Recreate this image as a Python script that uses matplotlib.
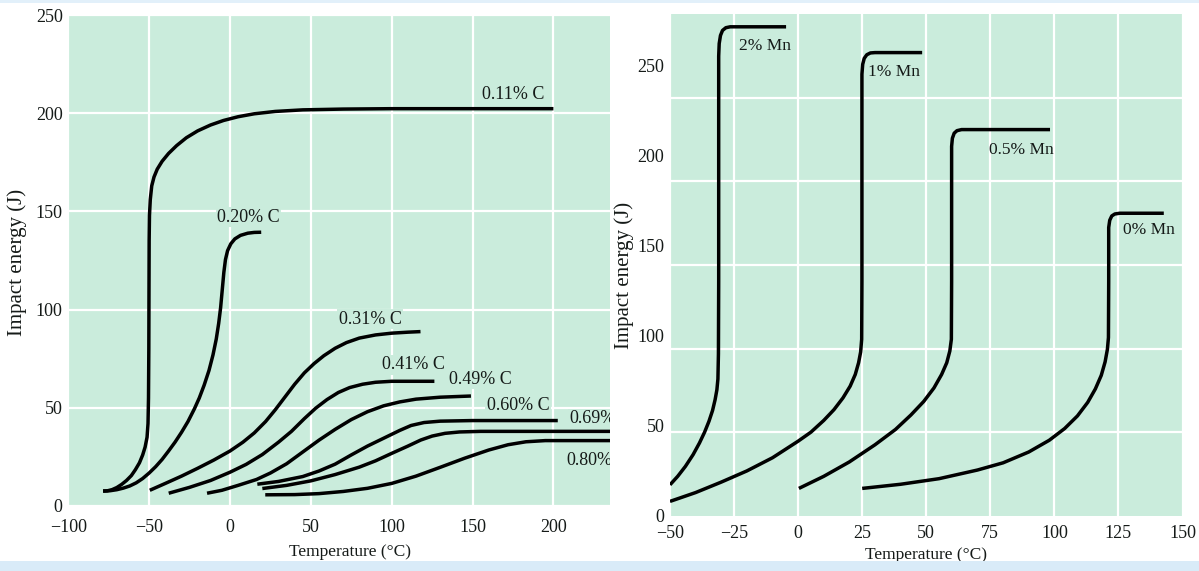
import matplotlib
matplotlib.use("Agg")
import matplotlib.pyplot as plt
from matplotlib.patches import Rectangle

# ---- Carbon content series (temperature in °C, impact energy in J) ----
c011_t = [-78.5, -76, -73, -70, -67, -64, -61, -58.5, -56, -54, -52.5, -51.3, -50.7, -50.4, -50.2,
          -50.1, -50.0, -49.8, -49.3, -48.4, -47, -45, -42, -38, -33, -27, -20, -12, -4, 5, 15,
          28, 45, 70, 100, 200]
c011_e = [7.6, 7.7, 8.3, 9.4, 11.0, 13.0, 15.5, 18.5, 22.0, 26.0, 30.0, 35.0, 42.0, 55.0, 80.0,
          110.0, 135.0, 148.0, 156.0, 163.0, 167.5, 171.5, 175.5, 179.5, 183.5, 187.5, 191.0, 194.0,
          196.3, 198.2, 199.7, 200.9, 201.7, 202.1, 202.3, 202.3]

c020_t = [-78.5, -74, -70, -66, -62, -58, -54, -50, -46, -42, -38, -34, -30, -26, -22, -19, -16,
          -13, -10.5, -8.5, -7, -5.8, -4.8, -3.8, -2.8, -1.5, 0.5, 3, 6.5, 11, 15, 19.3]
c020_e = [7.6, 7.8, 8.3, 9.1, 10.2, 11.8, 14.0, 16.8, 20.0, 23.7, 28.0, 32.5, 37.5, 43.0, 49.5,
          55.0, 61.5, 69.0, 77.0, 85.0, 93.0, 101.0, 110.0, 119.0, 125.5, 130.0, 133.5, 136.0,
          137.8, 138.9, 139.3, 139.4]

c031_t = [-49.6, -40, -30, -20, -10, 0, 8, 15, 22, 28, 34, 40, 46, 52, 58, 65, 72, 80, 90, 100,
          110, 117.8]
c031_e = [8.0, 11.5, 15.2, 19.2, 23.4, 28.0, 32.5, 37.2, 43.0, 49.0, 55.5, 62.0, 67.8, 72.5, 76.5,
          80.3, 83.2, 85.5, 87.1, 88.0, 88.5, 88.8]

c041_t = [-37.9, -25, -12, 0, 10, 20, 30, 38, 46, 53, 60, 67, 74, 82, 90, 100, 126.4]
c041_e = [6.5, 9.5, 13.0, 17.2, 21.2, 26.2, 32.5, 38.0, 44.5, 49.8, 54.2, 57.8, 60.3, 62.0, 63.0,
          63.5, 63.5]

c049_t = [-14.2, -5, 5, 16.4, 25, 35, 45, 55, 65, 75, 85, 95, 105, 115, 130, 149]
c049_e = [6.5, 8.0, 10.5, 13.5, 16.8, 21.5, 27.5, 33.5, 39.0, 44.0, 48.0, 51.0, 53.0, 54.4, 55.4, 56.0]

c060_t = [16.9, 30, 45, 55, 65, 75, 85, 95, 105, 112, 120, 130, 150, 202.7]
c060_e = [11.1, 12.5, 15.0, 17.8, 21.3, 26.0, 30.5, 34.5, 38.5, 41.0, 42.5, 43.2, 43.5, 43.5]

c069_t = [20, 35, 50, 65, 80, 90, 100, 110, 118, 125, 133, 142, 155, 240]
c069_e = [8.9, 10.5, 12.8, 16.0, 19.8, 23.0, 26.8, 30.5, 33.6, 35.6, 37.0, 37.7, 38.0, 38.0]

c080_t = [21.8, 40, 55, 70, 85, 100, 115, 130, 145, 160, 172, 183, 195, 240]
c080_e = [5.7, 5.8, 6.3, 7.4, 9.0, 11.5, 15.2, 19.7, 24.3, 28.5, 31.2, 32.7, 33.3, 33.3]

carbon_labels = ["0.11% C", "0.20% C", "0.31% C", "0.41% C", "0.49% C", "0.60% C", "0.69%", "0.80%"]
carbon_label_t = [175, 11.5, 86.6, 113.7, 155, 178, 210, 208]
carbon_label_e = [209.5, 147, 95, 72, 64.4, 51, 44.3, 23.4]

# ---- Manganese content series ----
mn2_t = [-50, -47, -44, -41, -38.5, -36.5, -34.8, -33.4, -32.4, -31.7, -31.3, -31.1, -31.0, -31.0,
         -31.0, -30.8, -30.3, -29.5, -28.2, -26.5, -4.7]
mn2_e = [17.3, 22.0, 27.5, 34.0, 40.5, 46.5, 52.5, 58.5, 64.5, 70.0, 76.0, 90.0, 130.0, 200.0,
         255.0, 262.0, 266.5, 269.3, 270.8, 271.3, 271.3]

mn1_t = [-50, -40, -30, -20, -10, 0, 5, 10, 14, 17.5, 20.3, 22.3, 23.6, 24.4, 24.8, 24.9, 24.9,
         24.9, 25.2, 25.8, 26.8, 28.2, 30, 48.4]
mn1_e = [8.1, 13.0, 18.8, 25.0, 32.3, 41.5, 46.5, 53.0, 59.0, 65.5, 72.0, 78.5, 85.0, 91.0, 98.0,
         130.0, 200.0, 245.0, 250.5, 253.8, 255.8, 256.8, 257.0, 257.0]

mn05_t = [0.3, 10, 20, 30, 38, 44, 49, 53, 56, 58, 59.2, 59.8, 59.9, 59.9, 60.2, 60.9, 62, 63.8, 98.3]
mn05_e = [15.3, 22.0, 30.0, 39.5, 48.0, 56.0, 63.5, 71.0, 78.5, 85.0, 91.5, 98.0, 130.0, 205.0,
          209.5, 212.3, 213.7, 214.3, 214.3]

mn0_t = [25, 40, 55, 70, 80, 90, 98, 104, 109, 113, 116, 118.3, 119.8, 120.7, 121.1, 121.2, 121.2,
         121.6, 122.4, 123.6, 125.5, 142.7]
mn0_e = [15.3, 17.6, 20.7, 25.5, 29.5, 35.5, 42.0, 48.5, 55.5, 63.0, 70.5, 78.0, 85.5, 92.5, 99.0,
         130.0, 160.0, 164.0, 166.4, 167.5, 167.9, 167.9]

mn_labels = ["2% Mn", "1% Mn", "0.5% Mn", "0% Mn"]
mn_label_t = [-12.9, 37.5, 87, 137]
mn_label_e = [260.6, 246, 203, 158.4]

# ---- styling ----
BG = "#caecdc"
INK = "#151a18"
FONT = "Liberation Serif"
LW = 2.5

plt.rcParams["font.family"] = [FONT, "DejaVu Serif"]

fig = plt.figure(figsize=(11.99, 5.71), dpi=100)
fig.patch.set_facecolor("white")

# pale blue slide bands along the top and bottom
fig.patches.append(Rectangle((0, 0), 1, 10 / 571, transform=fig.transFigure,
                             facecolor="#d9ebf8", edgecolor="none", zorder=0))
fig.patches.append(Rectangle((0, 1 - 3 / 571), 1, 3 / 571, transform=fig.transFigure,
                             facecolor="#e2f0fa", edgecolor="none", zorder=0))


def style_axes(ax):
    ax.set_facecolor(BG)
    for s in ax.spines.values():
        s.set_visible(False)
    ax.tick_params(length=0, labelsize=13, labelcolor=INK)
    ax.set_axisbelow(True)


def draw_curve(ax, t, e):
    ax.plot(t, e, color="black", lw=LW, solid_capstyle="butt", solid_joinstyle="round", zorder=3)


# ---------------- left panel: carbon ----------------
axL = fig.add_axes([68.3 / 1199, 1 - 506 / 571, 541.7 / 1199, 491 / 571])
style_axes(axL)
axL.set_xlim(-100, 235)
axL.set_ylim(0, 250)
axL.set_xticks([-100, -50, 0, 50, 100, 150, 200])
axL.set_xticklabels(["\u2212100", "\u221250", "0", "50", "100", "150", "200"])
axL.set_yticks([0, 50, 100, 150, 200, 250])
axL.tick_params(axis="x", pad=9)
axL.tick_params(axis="y", pad=4)
axL.grid(True, color="white", lw=1.6)

carbon_series = [(c011_t, c011_e), (c020_t, c020_e), (c031_t, c031_e), (c041_t, c041_e),
                 (c049_t, c049_e), (c060_t, c060_e), (c069_t, c069_e), (c080_t, c080_e)]
for t, e in carbon_series:
    draw_curve(axL, t, e)

for i, (lab, tx, ty) in enumerate(zip(carbon_labels, carbon_label_t, carbon_label_e)):
    ha = "left" if i >= 6 else "center"
    axL.text(tx, ty, lab, ha=ha, va="center", fontsize=13, color=INK, clip_on=True, zorder=4,
             bbox=dict(facecolor=BG, edgecolor="none", pad=1.0))

axL.set_xlabel("Temperature (\u00b0C)", fontsize=12.5, color=INK)
axL.xaxis.set_label_coords(0.52, -0.077)
axL.set_ylabel("Impact energy (J)", fontsize=15, color=INK)
axL.yaxis.set_label_coords(-0.077, 0.497)

# ---------------- right panel: manganese ----------------
axR = fig.add_axes([670 / 1199, 1 - 516 / 571, 512.5 / 1199, 502 / 571])
style_axes(axR)
axR.set_xlim(-50, 150)
axR.set_ylim(0, 278.4)
axR.set_xticks([-50, -25, 0, 25, 50, 75, 100, 125, 150])
axR.set_xticklabels(["\u221250", "\u221225", "0", "25", "50", "75", "100", "125", "150"])
axR.set_yticks([0, 50, 100, 150, 200, 250])
# the horizontal rules split the panel into six equal bands
axR.set_yticks([278.4 * k / 6 for k in range(1, 6)], minor=True)
axR.tick_params(axis="x", pad=6.5)
axR.tick_params(axis="y", pad=4)
axR.tick_params(which="minor", length=0)
axR.grid(True, axis="x", which="major", color="white", lw=1.6)
axR.grid(True, axis="y", which="minor", color="white", lw=1.6)

mn_series = [(mn2_t, mn2_e), (mn1_t, mn1_e), (mn05_t, mn05_e), (mn0_t, mn0_e)]
for t, e in mn_series:
    draw_curve(axR, t, e)

for lab, tx, ty in zip(mn_labels, mn_label_t, mn_label_e):
    axR.text(tx, ty, lab, ha="center", va="center", fontsize=12.5, color=INK, zorder=4)

axR.set_xlabel("Temperature (\u00b0C)", fontsize=12.5, color=INK)
axR.xaxis.set_label_coords(0.5, -0.062)
axR.set_ylabel("Impact energy (J)", fontsize=15, color=INK)
axR.yaxis.set_label_coords(-0.070, 0.48)

fig.savefig("out.png", dpi=100, facecolor=fig.get_facecolor())
